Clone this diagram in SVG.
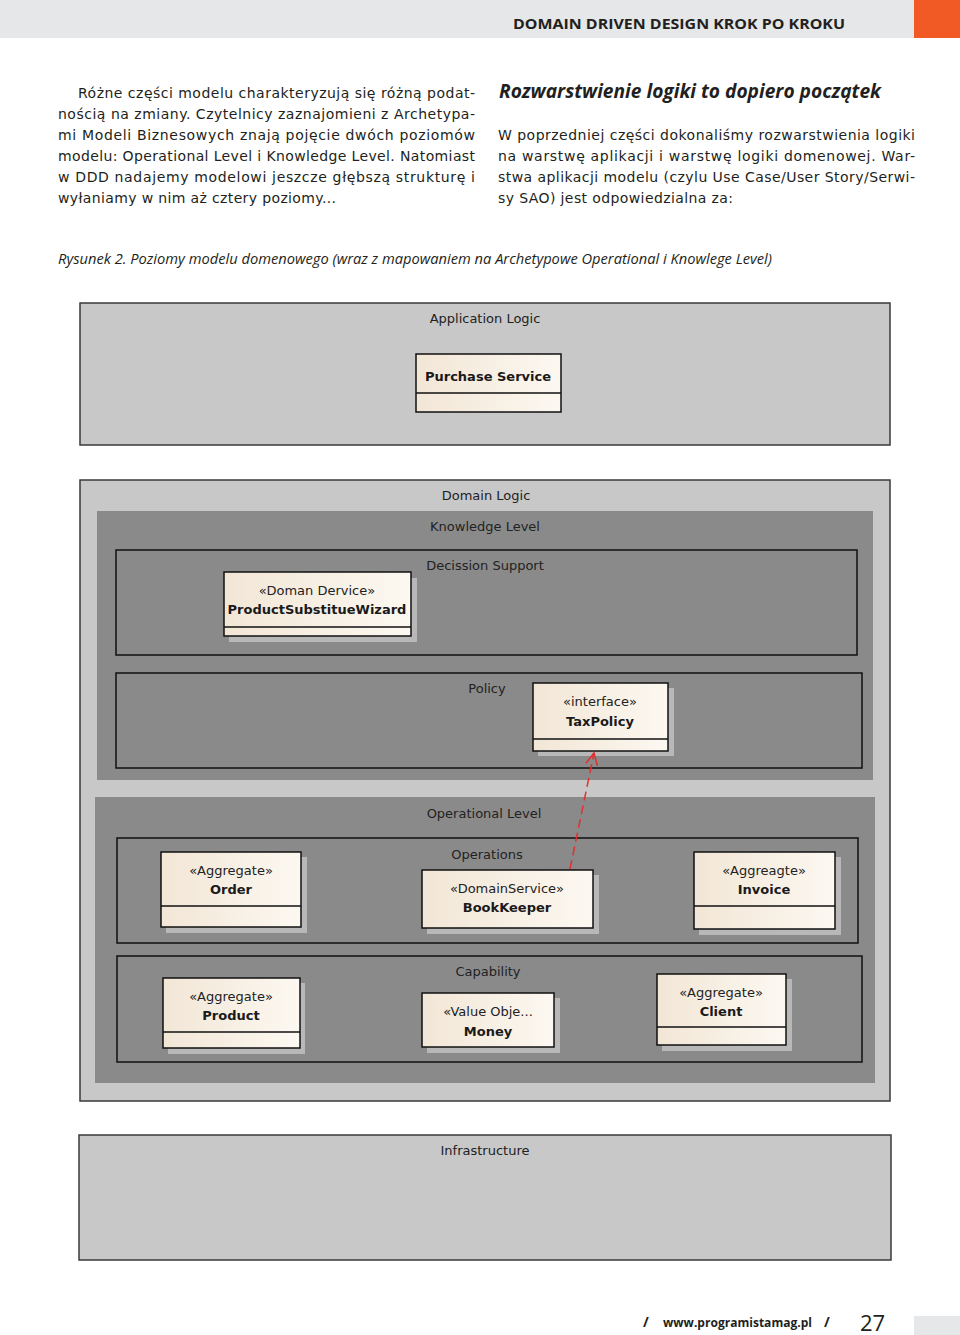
<svg xmlns="http://www.w3.org/2000/svg" width="960" height="1335" viewBox="0 0 960 1335">
<style>
.body{font-family:"DejaVu Sans",Verdana,sans-serif;font-size:14px;fill:#231f20}
.lbl{font-family:"DejaVu Sans",Tahoma,sans-serif;font-size:13px;fill:#222;text-anchor:middle}
.st{font-family:"DejaVu Sans",Tahoma,sans-serif;font-size:13px;fill:#222;text-anchor:middle}
.nm{font-family:"DejaVu Sans",Tahoma,sans-serif;font-size:13px;font-weight:bold;fill:#1a1a1a;text-anchor:middle}
.outer{fill:#c8c8c8;stroke:#3a3a3a;stroke-width:1.5}
.level{fill:#8a8a8a}
.inner{fill:#8a8a8a;stroke:#111;stroke-width:1.5}
.box{fill:url(#ng);stroke:#111;stroke-width:1.5}
.sh{fill:#b8b8b8}
.div{stroke:#111;stroke-width:1.5}
</style>
<defs>
<linearGradient id="ng" x1="0" y1="0" x2="1" y2="0">
<stop offset="0" stop-color="#f2e6d6"/>
<stop offset="1" stop-color="#fcf8f1"/>
</linearGradient>
<marker id="open" markerWidth="14" markerHeight="14" refX="12" refY="7" orient="auto" markerUnits="userSpaceOnUse">
<path d="M0,1 L12,7 L0,13" fill="none" stroke="#e03030" stroke-width="1.5"/>
</marker>
</defs>
<rect width="960" height="1335" fill="#fff"/>
<!-- header -->
<rect x="0" y="0" width="914" height="38" fill="#e6e7e8"/>
<rect x="914" y="0" width="46" height="38" fill="#f15a24"/>
<text x="845" y="29" text-anchor="end" font-family="'Open Sans','Liberation Sans',sans-serif" font-size="15" font-weight="bold" fill="#231f20" textLength="332" lengthAdjust="spacingAndGlyphs">DOMAIN DRIVEN DESIGN KROK PO KROKU</text>
<!-- left column -->
<text class="body" x="78" y="98" textLength="397" lengthAdjust="spacing">Różne części modelu charakteryzują się różną podat-</text>
<text class="body" x="58" y="119" textLength="417" lengthAdjust="spacing">nością na zmiany. Czytelnicy zaznajomieni z Archetypa-</text>
<text class="body" x="58" y="140" textLength="417" lengthAdjust="spacing">mi Modeli Biznesowych znają pojęcie dwóch poziomów</text>
<text class="body" x="58" y="161" textLength="417" lengthAdjust="spacing">modelu: Operational Level i Knowledge Level. Natomiast</text>
<text class="body" x="58" y="182" textLength="417" lengthAdjust="spacing">w DDD nadajemy modelowi jeszcze głębszą strukturę i</text>
<text class="body" x="58" y="203" textLength="278" lengthAdjust="spacing">wyłaniamy w nim aż cztery poziomy...</text>
<!-- right column -->
<text x="499" y="98" font-family="'Open Sans','Liberation Sans',sans-serif" font-size="19" font-weight="bold" font-style="italic" fill="#231f20" textLength="382" lengthAdjust="spacingAndGlyphs">Rozwarstwienie logiki to dopiero początek</text>
<text class="body" x="498" y="140" textLength="417" lengthAdjust="spacing">W poprzedniej części dokonaliśmy rozwarstwienia logiki</text>
<text class="body" x="498" y="161" textLength="417" lengthAdjust="spacing">na warstwę aplikacji i warstwę logiki domenowej. War-</text>
<text class="body" x="498" y="182" textLength="417" lengthAdjust="spacing">stwa aplikacji modelu (czylu Use Case/User Story/Serwi-</text>
<text class="body" x="498" y="203" textLength="235" lengthAdjust="spacing">sy SAO) jest odpowiedzialna za:</text>
<!-- caption -->
<text x="58" y="264" font-family="'Open Sans','Liberation Sans',sans-serif" font-size="14" font-style="italic" fill="#231f20" textLength="714" lengthAdjust="spacingAndGlyphs">Rysunek 2. Poziomy modelu domenowego (wraz z mapowaniem na Archetypowe Operational i Knowlege Level)</text>

<!-- containers -->
<g id="application-logic">
<rect class="outer" x="80" y="303" width="810" height="142"/>
<text class="lbl" x="485" y="323">Application Logic</text>
</g>
<g id="domain-logic">
<rect class="outer" x="80" y="480" width="810" height="621"/>
<text class="lbl" x="486" y="500">Domain Logic</text>
</g>
<g id="knowledge-level">
<rect class="level" x="97" y="511" width="776" height="269"/>
<text class="lbl" x="485" y="531">Knowledge Level</text>
</g>
<g id="decission-support">
<rect class="inner" x="116" y="550" width="741" height="105"/>
<text class="lbl" x="485" y="570">Decission Support</text>
</g>
<g id="policy">
<rect class="inner" x="116" y="673" width="746" height="95"/>
<text class="lbl" x="487" y="693">Policy</text>
</g>
<g id="operational-level">
<rect class="level" x="95" y="797" width="780" height="286"/>
<text class="lbl" x="484" y="818">Operational Level</text>
</g>
<g id="operations">
<rect class="inner" x="117" y="838" width="741" height="105"/>
<text class="lbl" x="487" y="859">Operations</text>
</g>
<g id="capability">
<rect class="inner" x="117" y="956" width="745" height="106"/>
<text class="lbl" x="488" y="976">Capability</text>
</g>
<g id="infrastructure">
<rect class="outer" x="79" y="1135" width="812" height="125"/>
<text class="lbl" x="485" y="1155">Infrastructure</text>
</g>

<!-- class nodes -->
<g id="purchase-service">
<rect class="box" x="416" y="354" width="145" height="58"/>
<line class="div" x1="416" y1="393" x2="561" y2="393"/>
<text class="nm" x="488" y="381">Purchase Service</text>
</g>
<g id="product-substitue-wizard">
<rect class="sh" x="229" y="578" width="188" height="64"/>
<rect class="box" x="224" y="572" width="187" height="64"/>
<line class="div" x1="224" y1="627" x2="411" y2="627"/>
<text class="st" x="317" y="595">«Doman Dervice»</text>
<text class="nm" x="317" y="614">ProductSubstitueWizard</text>
</g>
<g id="tax-policy">
<rect class="sh" x="538" y="688" width="136" height="68"/>
<rect class="box" x="533" y="683" width="135" height="68"/>
<line class="div" x1="533" y1="739" x2="668" y2="739"/>
<text class="st" x="600" y="706">«interface»</text>
<text class="nm" x="600" y="726">TaxPolicy</text>
</g>
<g id="order">
<rect class="sh" x="166" y="857" width="141" height="76"/>
<rect class="box" x="161" y="852" width="140" height="75"/>
<line class="div" x1="161" y1="906" x2="301" y2="906"/>
<text class="st" x="231" y="875">«Aggregate»</text>
<text class="nm" x="231" y="894">Order</text>
</g>
<g id="book-keeper">
<rect class="sh" x="427" y="875" width="172" height="59"/>
<rect class="box" x="422" y="870" width="171" height="58"/>
<text class="st" x="507" y="893">«DomainService»</text>
<text class="nm" x="507" y="912">BookKeeper</text>
</g>
<g id="invoice">
<rect class="sh" x="699" y="857" width="142" height="78"/>
<rect class="box" x="694" y="852" width="141" height="77"/>
<line class="div" x1="694" y1="906" x2="835" y2="906"/>
<text class="st" x="764" y="875">«Aggreagte»</text>
<text class="nm" x="764" y="894">Invoice</text>
</g>
<g id="product">
<rect class="sh" x="168" y="983" width="137" height="71"/>
<rect class="box" x="163" y="978" width="137" height="70"/>
<line class="div" x1="163" y1="1032" x2="300" y2="1032"/>
<text class="st" x="231" y="1001">«Aggregate»</text>
<text class="nm" x="231" y="1020">Product</text>
</g>
<g id="money">
<rect class="sh" x="427" y="998" width="133" height="55"/>
<rect class="box" x="422" y="993" width="132" height="54"/>
<text class="st" x="488" y="1016">«Value Obje...</text>
<text class="nm" x="488" y="1036">Money</text>
</g>
<g id="client">
<rect class="sh" x="662" y="979" width="130" height="72"/>
<rect class="box" x="657" y="974" width="129" height="71"/>
<line class="div" x1="657" y1="1027" x2="786" y2="1027"/>
<text class="st" x="721" y="997">«Aggregate»</text>
<text class="nm" x="721" y="1016">Client</text>
</g>

<!-- connectors -->
<g id="connectors">
<line x1="570" y1="869" x2="594" y2="753" stroke="#e03030" stroke-width="1.5" stroke-dasharray="9,5" marker-end="url(#open)"/>
</g>

<!-- footer -->
<text x="643" y="1327" font-family="'Open Sans','Liberation Sans',sans-serif" font-size="14" font-weight="bold" fill="#231f20">/</text>
<text x="663" y="1327" font-family="'Open Sans','Liberation Sans',sans-serif" font-size="13" font-weight="bold" fill="#231f20" textLength="149" lengthAdjust="spacingAndGlyphs">www.programistamag.pl</text>
<text x="824" y="1327" font-family="'Open Sans','Liberation Sans',sans-serif" font-size="14" font-weight="bold" fill="#231f20">/</text>
<text x="860" y="1331" font-family="'Open Sans','Liberation Sans',sans-serif" font-size="22" fill="#231f20">27</text>
<rect x="914" y="1316" width="46" height="19" fill="#e6e7e8"/>
</svg>
